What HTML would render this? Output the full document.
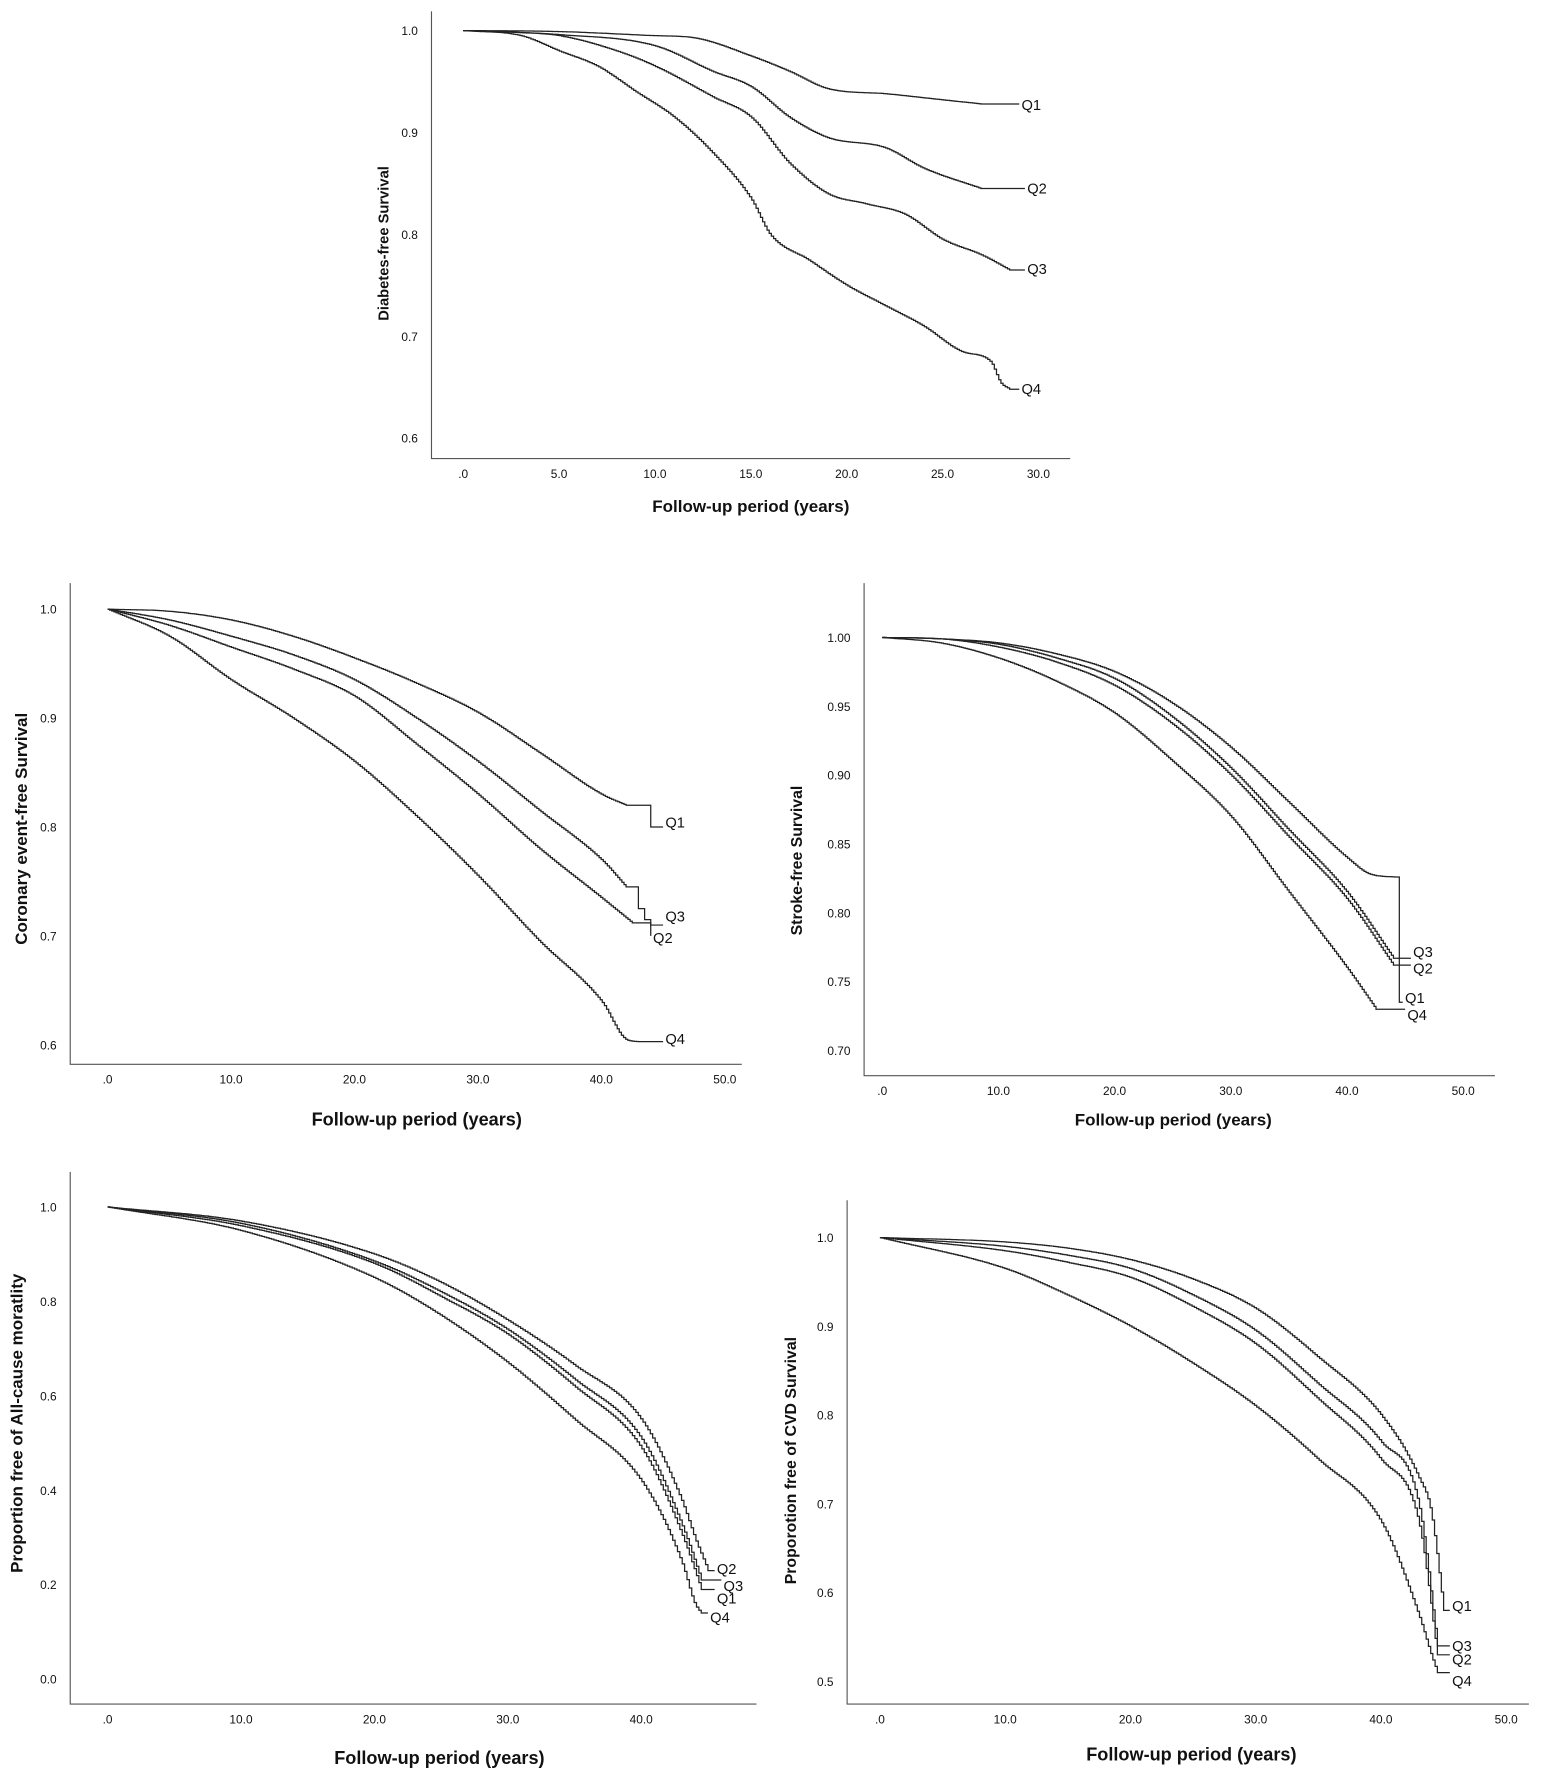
<!DOCTYPE html><html><head><meta charset="utf-8"><style>html,body{margin:0;padding:0;background:#fff}svg{display:block}text{font-family:"Liberation Sans",Arial,sans-serif;fill:#111}</style></head><body>
<svg id="s" width="1547" height="1772" viewBox="0 0 1366 1565" preserveAspectRatio="none" xmlns="http://www.w3.org/2000/svg"></svg>
<script>
var s=document.getElementById('s'),out='';
function T(x,y,t,sz,opt){opt=opt||{};out+='<text x="'+x+'" y="'+y+'" font-size="'+sz+'"'+(opt.b?' font-weight="bold"':'')+' text-anchor="'+(opt.a||'middle')+'"'+(opt.r?' transform="rotate(-90 '+x+' '+y+')"':'')+'>'+t+'</text>';}
function mono(p){var n=p.length,d=[],m=[];
 for(var i=0;i<n-1;i++)d.push((p[i+1][1]-p[i][1])/(p[i+1][0]-p[i][0]));
 m[0]=d[0];m[n-1]=d[n-2];
 for(i=1;i<n-1;i++){m[i]=(d[i-1]*d[i]<=0)?0:(d[i-1]+d[i])/2;}
 for(i=0;i<n-1;i++){if(d[i]==0){m[i]=0;m[i+1]=0;continue;}var a=m[i]/d[i],b=m[i+1]/d[i],h=a*a+b*b;if(h>9){var t=3/Math.sqrt(h);m[i]=t*a*d[i];m[i+1]=t*b*d[i];}}
 return function(x){for(var k=0;k<n-1;k++){if(x<=p[k+1][0]){var h=p[k+1][0]-p[k][0],t=(x-p[k][0])/h,t2=t*t,t3=t2*t;
  return (2*t3-3*t2+1)*p[k][1]+(t3-2*t2+t)*h*m[k]+(-2*t3+3*t2)*p[k+1][1]+(t3-t2)*h*m[k+1];}}return p[n-1][1];};}
function chart(c){
 out+='<path d="M'+c.ax+' '+c.top+'V'+c.bot+'H'+c.right+'" stroke="#555" stroke-width="1" fill="none"/>';
 var X=function(v){return c.x0+v*c.xs},Y=function(v){return c.y1+(1-v)*c.ys};
 c.yt.forEach(function(t){T(c.ax-12,Y(t[0])+4,t[1],10.5,{a:'end'})});
 c.xt.forEach(function(t){T(X(t[0]),c.bot+17,t[1],10.5)});
 T(c.xlx,c.xly,'Follow-up period (years)',c.fs||15,{b:1});
 T(c.ylx,c.yly,c.yl,c.yfs||14,{b:1,r:1});
 c.series.forEach(function(sr){
  var p=sr.p,f=mono(p),d='M'+X(0)+' '+Y(1),n=c.n||250,max=p[p.length-1][0];
  for(var i=1;i<=n;i++){var t=max*i/n,v=f(t);
   d+='H'+X(t).toFixed(1)+'V'+Y(v).toFixed(1);}
  if(sr.tail)sr.tail.forEach(function(q){d+='H'+X(q[0]).toFixed(1)+'V'+Y(q[1]).toFixed(1)});
  d+='H'+X(sr.end).toFixed(1);
  out+='<path d="'+d+'" stroke="#222" stroke-width="1.1" fill="none"/>';
  T(X(sr.end)+2,sr.ly,sr.name,13,{a:'start'});
 });
}
chart({ax:381,top:10,bot:405,right:945,x0:409,xs:16.93,y1:27,ys:900,
 yt:[[1,'1.0'],[.9,'0.9'],[.8,'0.8'],[.7,'0.7'],[.6,'0.6']],
 xt:[[0,'.0'],[5,'5.0'],[10,'10.0'],[15,'15.0'],[20,'20.0'],[25,'25.0'],[30,'30.0']],
 xlx:663,xly:452,ylx:343,yly:215,yl:'Diabetes-free Survival',yfs:13,
 series:[
 {name:'Q1',ly:97,end:29,p:[[0,1],[5,.999],[10,.995],[12,.993],[15,.975],[17,.96],[19,.943],[22,.938],[25,.932],[27,.928]]},
 {name:'Q2',ly:171,end:29.3,p:[[0,1],[5,.996],[10,.985],[13,.96],[15,.945],[17,.915],[19,.895],[22,.885],[24,.865],[27,.845]]},
 {name:'Q3',ly:242,end:29.3,p:[[0,1],[3,.998],[5,.995],[8,.98],[10,.965],[13,.935],[15,.915],[17,.87],[19,.84],[21,.83],[23,.82],[25,.795],[27,.78],[28.5,.765]]},
 {name:'Q4',ly:348,end:29,p:[[0,1],[3,.995],[5,.98],[7,.965],[9,.94],[11,.915],[13,.88],[15,.835],[16,.8],[18,.775],[20,.75],[22,.73],[24,.71],[26,.685],[27.5,.675],[28,.655],[28.5,.648]]}]});
chart({ax:62,top:515,bot:940,right:655,x0:95,xs:10.9,y1:538,ys:962,
 yt:[[1,'1.0'],[.9,'0.9'],[.8,'0.8'],[.7,'0.7'],[.6,'0.6']],
 xt:[[0,'.0'],[10,'10.0'],[20,'20.0'],[30,'30.0'],[40,'40.0'],[50,'50.0']],
 xlx:368,xly:994,ylx:24,yly:732,yl:'Coronary event-free Survival',fs:16,yfs:15,
 series:[
 {name:'Q1',ly:731,end:45,p:[[0,1],[5,.998],[10,.99],[15,.975],[20,.955],[25,.932],[30,.905],[35,.868],[40,.83],[42,.82]],tail:[[44,.8]]},
 {name:'Q3',ly:814,end:45,p:[[0,1],[5,.99],[10,.975],[15,.958],[20,.935],[25,.9],[30,.86],[35,.815],[40,.77],[42,.745]],tail:[[43,.725],[43.5,.715],[44,.71]]},
 {name:'Q2',ly:833,end:44,p:[[0,1],[5,.985],[10,.965],[15,.945],[20,.92],[25,.876],[30,.83],[35,.78],[40,.735],[42.5,.712]],tail:[[44,.7]]},
 {name:'Q4',ly:922,end:45,p:[[0,1],[5,.975],[10,.935],[15,.9],[20,.86],[25,.81],[30,.755],[35,.695],[40,.64],[42,.605],[43,.603]]}]});
chart({ax:763,top:515,bot:950,right:1320,x0:779,xs:10.26,y1:563,ys:1216,
 yt:[[1,'1.00'],[.95,'0.95'],[.9,'0.90'],[.85,'0.85'],[.8,'0.80'],[.75,'0.75'],[.7,'0.70']],
 xt:[[0,'.0'],[10,'10.0'],[20,'20.0'],[30,'30.0'],[40,'40.0'],[50,'50.0']],
 xlx:1036,xly:994,ylx:708,yly:760,yl:'Stroke-free Survival',
 series:[
 {name:'Q3',ly:845,end:45.5,p:[[0,1],[5,.999],[10,.995],[15,.985],[20,.97],[25,.942],[30,.905],[35,.86],[40,.815],[44,.767]]},
 {name:'Q2',ly:860,end:45.5,p:[[0,1],[5,.999],[10,.993],[15,.982],[20,.965],[25,.937],[30,.9],[35,.855],[40,.81],[44,.762]]},
 {name:'Q1',ly:886,end:44.8,p:[[0,1],[5,.999],[10,.996],[15,.988],[20,.975],[25,.952],[30,.92],[35,.88],[40,.84],[42,.828],[44.3,.826]],tail:[[44.5,.735]]},
 {name:'Q4',ly:901,end:45,p:[[0,1],[5,.996],[10,.985],[15,.968],[20,.945],[25,.91],[30,.87],[35,.815],[40,.76],[42.5,.73]]}]});
chart({ax:62,top:1035,bot:1505,right:668,x0:95,xs:11.78,y1:1066,ys:417,
 yt:[[1,'1.0'],[.8,'0.8'],[.6,'0.6'],[.4,'0.4'],[.2,'0.2'],[0,'0.0']],
 xt:[[0,'.0'],[10,'10.0'],[20,'20.0'],[30,'30.0'],[40,'40.0']],
 xlx:388,xly:1558,ylx:20,yly:1257,yl:'Proportion free of All-cause moratlity',fs:16,yfs:15,
 series:[
 {name:'Q2',ly:1390,end:45.5,p:[[0,1],[10,.97],[20,.90],[25,.84],[30,.76],[35,.665],[40,.55],[43,.38],[44,.3],[45,.23]]},
 {name:'Q3',ly:1405,end:46,p:[[0,1],[10,.965],[20,.885],[25,.82],[30,.74],[35,.635],[40,.51],[43,.33],[44.5,.21]]},
 {name:'Q1',ly:1416,end:45.5,p:[[0,1],[10,.96],[20,.88],[25,.81],[30,.73],[35,.62],[40,.49],[43,.31],[44.5,.19]]},
 {name:'Q4',ly:1433,end:45,p:[[0,1],[10,.95],[20,.85],[25,.77],[30,.67],[35,.55],[40,.42],[43,.25],[44,.16],[44.5,.14]]}]});
chart({ax:748,top:1060,bot:1505,right:1350,x0:777,xs:11.06,y1:1093,ys:784,
 yt:[[1,'1.0'],[.9,'0.9'],[.8,'0.8'],[.7,'0.7'],[.6,'0.6'],[.5,'0.5']],
 xt:[[0,'.0'],[10,'10.0'],[20,'20.0'],[30,'30.0'],[40,'40.0'],[50,'50.0']],
 xlx:1052,xly:1555,ylx:703,yly:1290,yl:'Proporotion free of CVD Survival',fs:16,
 series:[
 {name:'Q1',ly:1423,end:45.5,p:[[0,1],[10,.995],[15,.988],[20,.975],[25,.953],[30,.92],[35,.865],[40,.80],[43,.73],[44,.69],[45,.58]]},
 {name:'Q3',ly:1458,end:45.5,p:[[0,1],[10,.99],[15,.98],[20,.965],[25,.935],[30,.895],[35,.835],[40,.77],[43,.70],[44.5,.54]]},
 {name:'Q2',ly:1470,end:45.5,p:[[0,1],[10,.985],[15,.972],[20,.955],[25,.922],[30,.88],[35,.818],[40,.75],[43,.68],[44.5,.53]]},
 {name:'Q4',ly:1489,end:45.5,p:[[0,1],[10,.965],[15,.935],[20,.90],[25,.858],[30,.81],[35,.75],[40,.68],[43,.575],[44,.53],[44.5,.51]]}]});
s.innerHTML=out;
</script></body></html>
